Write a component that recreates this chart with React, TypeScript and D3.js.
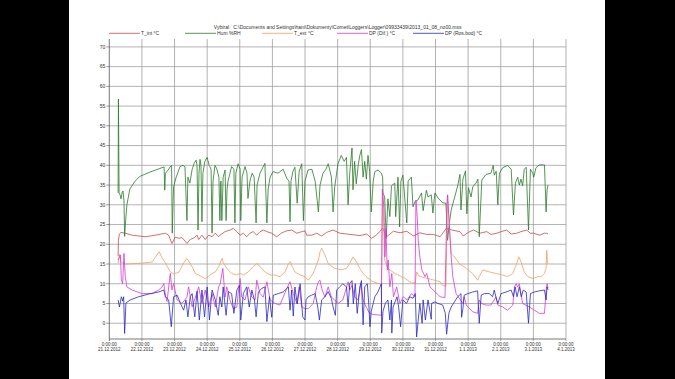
import React from "react";
import * as d3 from "d3";

// ---- data: [day offset from 21.12.2012 00:00, value] ----
const TITLE =
  "Vybíral\u00a0\u00a0\u00a0C:\\Documents and Settings\\hani\\Dokumenty\\Comet\\Loggers\\Logger\\09933439\\2013_01_08_no00.mss";
const seriesNames = ["T_int °C", "Hum %RH", "T_ext °C", "DP (Dif.) °C", "DP (Ros.bod) °C"];
const yTicks = [0, 5, 10, 15, 20, 25, 30, 35, 40, 45, 50, 55, 60, 65, 70];

const tInt: [number, number][] = [
  [0.27, 17], [0.28, 21], [0.31, 22.6], [0.36, 23], [0.49, 22.8], [0.7, 22.3], [1.1, 21.9], [1.41, 22.3],
  [1.72, 22.8], [1.82, 22.3], [1.92, 20.2], [2.02, 21.8], [2.13, 21.5], [2.23, 21.7], [2.38, 20.2],
  [2.48, 21.2], [2.59, 21.6], [2.69, 22.3], [2.74, 21.2], [2.84, 22.3], [2.94, 21.2], [3.05, 22.3],
  [3.15, 21.9], [3.25, 22.8], [3.35, 21.9], [3.39, 22.3], [3.55, 23.2], [3.7, 23.6], [3.8, 24],
  [3.91, 23.2], [4.01, 22.3], [4.11, 22.8], [4.21, 21.9], [4.31, 22.8], [4.41, 23.2], [4.52, 22.3],
  [4.62, 23.2], [4.72, 23.6], [4.83, 23.2], [4.98, 22.8], [5.13, 21.9], [5.29, 22.9], [5.44, 23.4],
  [5.59, 23.6], [5.75, 22.8], [5.9, 23.2], [6.0, 23.4], [6.05, 22.3], [6.2, 22.3], [6.36, 22.8],
  [6.51, 22.1], [6.66, 23], [6.86, 23.6], [7.07, 22.8], [7.38, 22.5], [7.69, 22.2], [7.89, 22.6],
  [8.04, 21.5], [8.18, 22.3], [8.3, 23.3], [8.38, 24.1], [8.5, 21.9], [8.71, 23.3], [8.91, 22.9],
  [9.12, 23.3], [9.32, 22.1], [9.52, 22.9], [9.73, 22.5], [9.93, 22.5], [10.14, 21.9], [10.34, 24.1],
  [10.5, 23.6], [10.75, 23.2], [10.85, 22.1], [11.0, 23], [11.16, 23.6], [11.36, 22.8], [11.57, 23.2],
  [11.7, 22.5], [11.88, 22.8], [12.01, 23.2], [12.18, 23.6], [12.32, 22.6], [12.49, 22.8], [12.62, 23.2],
  [12.8, 23.6], [12.9, 22.8], [13.0, 22.8], [13.2, 22.3], [13.33, 22.8], [13.41, 22.8], [13.45, 22.6],
];

const humidity: [number, number][] = [
  [0.27, 33], [0.28, 56.8], [0.3, 33], [0.33, 32.5], [0.36, 31.5], [0.39, 33], [0.42, 33.5], [0.45, 31],
  [0.47, 22], [0.5, 26], [0.54, 30], [0.63, 34], [0.79, 36], [0.94, 37.2], [1.25, 38.3], [1.55, 39.2],
  [1.68, 39.6], [1.7, 33.7], [1.72, 38], [1.8, 38.8], [1.86, 39.5], [1.91, 40], [1.93, 22.8], [1.97, 34.5],
  [2.05, 37], [2.17, 39.7], [2.26, 40], [2.32, 39.6], [2.38, 26], [2.41, 37], [2.47, 35.5], [2.54, 39],
  [2.6, 40.5], [2.66, 41.3], [2.69, 40], [2.72, 23.6], [2.75, 38], [2.78, 41.5], [2.81, 40], [2.84, 25.7],
  [2.87, 38], [2.93, 41], [3.0, 42], [3.06, 40], [3.12, 39], [3.15, 22.8], [3.18, 36], [3.24, 40],
  [3.3, 39], [3.36, 37], [3.39, 26], [3.42, 36], [3.45, 26], [3.49, 37], [3.55, 38.8], [3.58, 26],
  [3.61, 34], [3.64, 36], [3.75, 39.7], [3.82, 39], [3.85, 25.4], [3.88, 38], [3.95, 40.4], [4.01, 39],
  [4.03, 26], [4.07, 37], [4.16, 39.7], [4.22, 38], [4.25, 31.6], [4.31, 36], [4.38, 38], [4.44, 37],
  [4.5, 25.4], [4.53, 35], [4.62, 38], [4.71, 39.5], [4.77, 40.5], [4.83, 25.4], [4.87, 34], [4.93, 37],
  [5.02, 38.4], [5.17, 38], [5.33, 39], [5.44, 36.7], [5.51, 36], [5.54, 25.7], [5.57, 36], [5.63, 38.5],
  [5.69, 39.5], [5.76, 30.4], [5.82, 38.5], [5.9, 40.4], [5.95, 26], [6.0, 36], [6.09, 38.8], [6.21, 39],
  [6.31, 36], [6.41, 28.2], [6.46, 35], [6.55, 38], [6.64, 39], [6.71, 40.4], [6.81, 37], [6.86, 28.2],
  [6.91, 34.5], [7.01, 40.4], [7.11, 42.5], [7.2, 41], [7.27, 42], [7.32, 30], [7.37, 38], [7.44, 44.4],
  [7.47, 33.8], [7.52, 41], [7.57, 35.3], [7.63, 40], [7.68, 42.5], [7.73, 44], [7.78, 37], [7.83, 41],
  [7.88, 36.5], [7.93, 42.5], [7.98, 38.5], [8.03, 28.2], [8.09, 36], [8.14, 38.4], [8.24, 38.8],
  [8.34, 38], [8.38, 37], [8.39, 33], [8.44, 32], [8.49, 21.5], [8.54, 31.5], [8.6, 27], [8.65, 34.8],
  [8.75, 35.5], [8.78, 27], [8.85, 37], [8.9, 24.4], [8.94, 36], [9.0, 37.5], [9.12, 25.4], [9.16, 36],
  [9.26, 37], [9.31, 29.5], [9.37, 30.8], [9.46, 31.2], [9.57, 33], [9.62, 28.5], [9.72, 33.7],
  [9.77, 32], [9.87, 32.5], [9.92, 27.9], [9.98, 33], [10.08, 31.7], [10.22, 30.5], [10.32, 30.4],
  [10.37, 21], [10.42, 25], [10.48, 28.7], [10.58, 31.7], [10.68, 34.8], [10.75, 37.7], [10.78, 28.7],
  [10.84, 36.5], [10.92, 38.6], [10.96, 27.7], [11.01, 34.3], [11.09, 32], [11.14, 34.5], [11.24, 35.5],
  [11.3, 36.5], [11.34, 21.9], [11.42, 36.3], [11.55, 37.7], [11.7, 38], [11.77, 40], [11.8, 37.5],
  [11.86, 38.5], [11.91, 30], [11.96, 38], [12.06, 39.4], [12.21, 40], [12.32, 39], [12.39, 27.4],
  [12.45, 35.5], [12.52, 37], [12.57, 35], [12.62, 36.5], [12.67, 34.8], [12.72, 39], [12.78, 39.5],
  [12.85, 23.6], [12.91, 39], [12.98, 38], [13.01, 37], [13.08, 39.4], [13.18, 40.1], [13.34, 40.1],
  [13.39, 28.2], [13.42, 33.8], [13.45, 35],
];

const tExt: [number, number][] = [
  [0.27, 15.2], [0.31, 17.5], [0.36, 15.5], [0.49, 15], [1.0, 15.2], [1.31, 15.5], [1.46, 17.3],
  [1.53, 18.1], [1.62, 16.5], [1.72, 15.2], [1.87, 13], [1.97, 12.5], [2.13, 12.9], [2.28, 15.3],
  [2.37, 16.4], [2.43, 15.8], [2.54, 14.3], [2.64, 12.6], [2.79, 12], [2.94, 11.3], [3.05, 11.9],
  [3.15, 12.6], [3.25, 13], [3.35, 14.3], [3.46, 16.4], [3.49, 15.4], [3.6, 13.9], [3.75, 12.6],
  [3.91, 12.2], [4.01, 12.6], [4.11, 12.2], [4.26, 13], [4.41, 14.3], [4.52, 15.1], [4.57, 14.8],
  [4.67, 13.9], [4.77, 13], [4.93, 12.2], [5.08, 12.2], [5.23, 11.8], [5.39, 13], [5.49, 15.1],
  [5.54, 15.6], [5.59, 14.7], [5.69, 13], [5.85, 12.2], [6.0, 11.8], [6.1, 10.9], [6.25, 12.6],
  [6.41, 16], [6.46, 18.1], [6.51, 19], [6.61, 17.3], [6.71, 15.1], [6.91, 13.9], [7.11, 13.5],
  [7.27, 13.9], [7.37, 15.1], [7.47, 16.8], [7.57, 15.6], [7.68, 13.9], [7.78, 12.6], [7.93, 11.4],
  [8.08, 10.5], [8.24, 10.1], [8.34, 9.9], [8.38, 33.3], [8.41, 25], [8.44, 16], [8.54, 13.9],
  [8.75, 12.6], [9.06, 11.4], [9.26, 10.2], [9.38, 10.2], [9.42, 13], [9.49, 12], [9.68, 11.5],
  [9.92, 11], [10.14, 10.5], [10.22, 9.6], [10.32, 9.3], [10.37, 32.5], [10.42, 25], [10.48, 17.7],
  [10.58, 16.8], [10.73, 15.1], [10.94, 13.9], [11.14, 12.6], [11.29, 10.9], [11.34, 11.8],
  [11.45, 13.5], [11.65, 13], [11.85, 12.6], [12.06, 12.2], [12.21, 11.8], [12.37, 12.6], [12.47, 14.7],
  [12.55, 16.8], [12.62, 15.6], [12.72, 13], [12.83, 11.8], [12.98, 11.3], [13.13, 11.8], [13.23, 11.8],
  [13.34, 12.6], [13.39, 13.9], [13.41, 18.5], [13.43, 15.5], [13.45, 15],
];

const dpDif: [number, number][] = [
  [0.27, 16], [0.34, 17.3], [0.37, 10.9], [0.41, 10], [0.45, 17.7], [0.49, 11.8], [0.54, 9.2], [0.7, 8.4],
  [1.0, 7.5], [1.31, 7.5], [1.51, 8.4], [1.62, 9.2], [1.67, 10], [1.72, 7], [1.77, 5.5], [1.87, 12.6],
  [1.92, 8.4], [1.97, 10], [2.08, 5.9], [2.23, 5], [2.38, 6.6], [2.43, 9.2], [2.54, 4.1], [2.64, 6.6],
  [2.74, 9.2], [2.84, 5], [2.94, 8.4], [3.05, 4.1], [3.15, 7.5], [3.25, 4.1], [3.35, 9.2], [3.4, 10],
  [3.48, 13.9], [3.55, 6.6], [3.6, 9.2], [3.7, 5.9], [3.8, 3.7], [3.91, 4.1], [3.95, 7.5], [4.01, 11.3],
  [4.06, 6.6], [4.16, 5.9], [4.26, 9.2], [4.37, 6.6], [4.47, 5.9], [4.52, 10.9], [4.62, 7.5], [4.72, 6.6],
  [4.83, 10.5], [4.93, 5.9], [5.08, 5], [5.23, 4.6], [5.33, 6.6], [5.44, 8.8], [5.54, 10.5], [5.64, 7.5],
  [5.75, 5], [5.82, 9.2], [5.9, 4.1], [6.0, 3.7], [6.1, 3.7], [6.25, 5], [6.36, 9.2], [6.41, 10.5],
  [6.46, 10.9], [6.51, 8.8], [6.61, 6.6], [6.71, 9.2], [6.81, 6.6], [6.91, 5.9], [7.01, 5], [7.16, 5.9],
  [7.32, 10.5], [7.37, 8.4], [7.44, 9.6], [7.52, 6.6], [7.63, 5.9], [7.71, 10], [7.78, 5.9], [7.88, 4],
  [7.98, 2.5], [8.08, 2.2], [8.24, 2.1], [8.34, 2], [8.37, 34], [8.42, 29], [8.45, 16.8], [8.48, 24],
  [8.52, 13.5], [8.55, 16], [8.6, 9.2], [8.66, 12.6], [8.71, 6.7], [8.81, 9.2], [8.91, 5], [9.01, 6.7],
  [9.12, 5.9], [9.27, 7.5], [9.37, 6.7], [9.4, 31.2], [9.44, 27], [9.47, 21], [9.52, 16.8], [9.58, 13.5],
  [9.68, 11.8], [9.73, 12.6], [9.83, 9.2], [9.93, 8.4], [10.14, 6.7], [10.29, 6.5], [10.35, 30.4],
  [10.37, 32.5], [10.42, 25.3], [10.48, 16.8], [10.53, 11.8], [10.63, 7.5], [10.73, 6.3], [10.84, 5],
  [10.88, 6.7], [10.94, 4.6], [11.14, 2.9], [11.29, 2.5], [11.34, 5.9], [11.4, 5], [11.55, 4.6],
  [11.7, 4.6], [11.8, 5.9], [11.85, 6.7], [11.91, 4.6], [12.06, 4.1], [12.21, 3.3], [12.37, 4.6],
  [12.42, 9.2], [12.47, 10], [12.52, 9.2], [12.57, 10], [12.62, 7.5], [12.67, 5], [12.77, 4.6],
  [12.88, 4.1], [13.03, 3.3], [13.18, 2.5], [13.34, 2.5], [13.39, 8.4], [13.42, 10], [13.45, 9],
];

const dpRos: [number, number][] = [
  [0.27, 5.9], [0.31, 4.1], [0.34, 5.4], [0.37, 6.7], [0.41, 5.6], [0.44, 6.7], [0.47, -2.6], [0.51, 5.1],
  [0.64, 5.9], [0.9, 6.7], [1.21, 7.4], [1.51, 7.9], [1.67, 8.4], [1.72, 6.7], [1.82, 5.9], [1.9, -0.9],
  [1.97, 6.7], [2.08, 7.1], [2.18, 5], [2.28, 3.3], [2.35, 5.9], [2.41, 1.6], [2.48, 6.7], [2.54, 7.5],
  [2.62, 1.6], [2.69, 8.1], [2.76, 0.8], [2.84, 8.4], [2.92, 1.6], [3.0, 9.2], [3.07, 0.8], [3.15, 8.4],
  [3.25, 5.9], [3.34, 2], [3.39, 6.7], [3.45, 4.1], [3.49, 9.2], [3.58, 2], [3.65, 8], [3.75, 7.5],
  [3.82, 2.5], [3.91, 8.4], [3.99, 9.6], [4.03, 0.8], [4.11, 7.5], [4.21, 9.2], [4.29, 4.1], [4.37, 8.4],
  [4.45, 5.9], [4.5, 1.6], [4.57, 7.9], [4.67, 8.8], [4.77, 9.2], [4.83, 0.4], [4.91, 6.7], [4.98, 1.5],
  [5.03, 7.1], [5.18, 7.5], [5.33, 7.9], [5.44, 8.8], [5.49, 9.2], [5.54, 3.3], [5.59, 8.4], [5.64, 1.8],
  [5.69, 9.2], [5.76, 4.9], [5.85, 10], [5.93, 1.6], [6.0, 0.8], [6.03, 5.9], [6.1, 6.7], [6.2, 7.1],
  [6.31, 7.5], [6.39, 4.1], [6.44, 0.8], [6.51, 5.9], [6.61, 6.7], [6.71, 8], [6.81, 6.2], [6.86, 4.1],
  [6.93, 2], [6.97, 8.4], [7.06, 9.2], [7.16, 10], [7.27, 9.2], [7.32, 4.1], [7.37, 10], [7.44, 10.8],
  [7.48, 4.9], [7.54, 10], [7.6, 2.5], [7.68, 9.2], [7.73, 10.8], [7.78, -0.4], [7.83, 9.2], [7.91, 10],
  [7.96, 4.1], [7.99, -0.9], [8.03, 3], [8.14, 6.7], [8.24, 8], [8.34, 10], [8.35, -2.5], [8.39, 3],
  [8.46, 5], [8.54, 5.9], [8.6, 0.8], [8.65, 5.9], [8.66, -2.5], [8.7, 4.1], [8.82, 6.7], [8.87, 4.1],
  [8.93, -0.9], [9.0, 5.9], [9.11, 5], [9.21, 6.7], [9.31, 6.3], [9.38, 7.5], [9.42, -3.5], [9.52, 5],
  [9.59, 0], [9.62, 5.9], [9.69, 0.8], [9.77, 5.9], [9.87, 1], [9.88, 5], [9.98, 5.4], [10.08, 5],
  [10.22, 4.6], [10.3, 2.5], [10.34, -2.8], [10.41, 2.5], [10.48, 4.1], [10.58, 5.4], [10.68, 6.7],
  [10.78, 7.5], [10.8, 1.5], [10.84, 3.7], [10.88, 7.1], [10.99, 7.5], [11.14, 7.9], [11.29, 8.2],
  [11.34, 0], [11.4, 7.1], [11.5, 7.5], [11.65, 7.5], [11.75, 6.7], [11.8, 8.4], [11.85, 6.7], [11.91, 5],
  [12.01, 7.5], [12.16, 7.9], [12.32, 8.4], [12.39, 6.7], [12.44, 9.2], [12.5, 6.7], [12.57, 9.2],
  [12.63, 6.7], [12.69, 8.4], [12.78, 7.9], [12.85, 0], [12.91, 7.5], [13.03, 7.9], [13.18, 8.2],
  [13.34, 8.4], [13.39, 5.9], [13.42, 9.2], [13.45, 8.5],
];

const allSeries = [tInt, humidity, tExt, dpDif, dpRos];
const colors = ["#c84a4a", "#2a7a2a", "#f0a060", "#d63ad6", "#2828c0"];

const START = new Date(2012, 11, 21);
const END = new Date(2013, 0, 4);
const DAY = 86400000;

export default function App() {
  const W = 675;
  const H = 379;
  const left = 109.3;
  const right = 566;
  const top = 39;
  const bottom = 339;

  const x = d3.scaleTime().domain([START, END]).range([left, right]);
  const y = d3.scaleLinear().domain([-4, 72]).range([bottom, top]);
  const days = d3.timeDay.range(START, new Date(END.getTime() + 1000));
  const fmt = d3.timeFormat("%-d.%-m.%Y");

  const line = d3
    .line<[number, number]>()
    .x((d) => x(new Date(START.getTime() + d[0] * DAY)))
    .y((d) => y(d[1]));

  const font = "Liberation Sans, Arial, sans-serif";
  const legendStarts = [109, 185, 262, 337, 413];

  return (
    <svg
      width={W}
      height={H}
      style={{ position: "fixed", left: 0, top: 0, background: "#fff" }}
      fontFamily={font}
    >
      <rect x={0} y={0} width={W} height={H} fill="#fff" />
      {/* grid */}
      {yTicks.map((t) => (
        <line key={"h" + t} x1={left} x2={right} y1={y(t)} y2={y(t)} stroke="#a0a0a0" strokeWidth={0.8} />
      ))}
      {days.map((d, i) => (
        <line
          key={"v" + i}
          x1={x(d)}
          x2={x(d)}
          y1={top}
          y2={bottom + 2}
          stroke={i === 0 ? "#555" : "#a0a0a0"}
          strokeWidth={0.8}
        />
      ))}
      <line x1={left} x2={right} y1={bottom} y2={bottom} stroke="#555" strokeWidth={0.8} />
      {/* y labels */}
      {yTicks.map((t) => (
        <g key={"yl" + t}>
          <line x1={left - 3} x2={left} y1={y(t)} y2={y(t)} stroke="#555" strokeWidth={0.6} />
          <text x={left - 4} y={y(t) + 1.8} fontSize={5} textAnchor="end" fill="#333">
            {t}
          </text>
        </g>
      ))}
      {/* x labels */}
      {days.map((d, i) => (
        <g key={"xl" + i}>
          <text x={x(d)} y={345.5} fontSize={4.5} textAnchor="middle" fill="#333">
            0:00:00
          </text>
          <text x={x(d)} y={351} fontSize={4.5} textAnchor="middle" fill="#333">
            {fmt(d)}
          </text>
        </g>
      ))}
      {/* series */}
      {allSeries.map((s, i) => (
        <path key={"s" + i} d={line(s) || ""} fill="none" stroke={colors[i]} strokeWidth={0.8} />
      ))}
      {/* title & legend */}
      <text x={(left + right) / 2} y={29} fontSize={5} textAnchor="middle" fill="#333">
        {TITLE}
      </text>
      {seriesNames.map((n, i) => (
        <g key={"lg" + i}>
          <line
            x1={legendStarts[i]}
            x2={legendStarts[i] + 31}
            y1={33.3}
            y2={33.3}
            stroke={colors[i]}
            strokeWidth={0.8}
          />
          <text x={legendStarts[i] + 32} y={35} fontSize={5} fill="#333">
            {n}
          </text>
        </g>
      ))}
      {/* letterbox bars */}
      <rect x={0} y={0} width={69} height={H} fill="#000" />
      <rect x={605} y={0} width={W - 605} height={H} fill="#000" />
    </svg>
  );
}
